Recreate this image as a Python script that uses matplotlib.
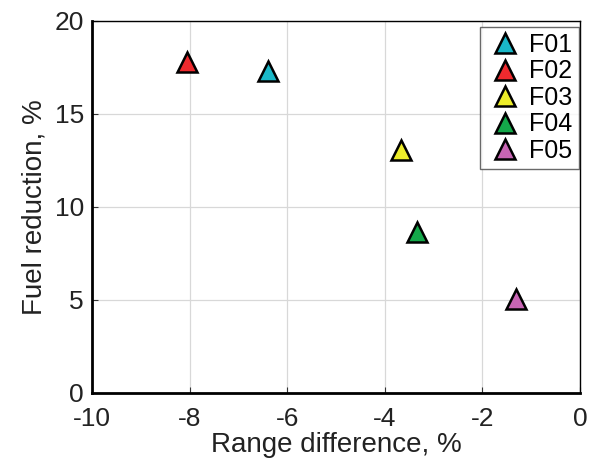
import matplotlib.pyplot as plt

plt.rcParams['font.family'] = ['Liberation Sans', 'DejaVu Sans']
plt.rcParams['axes.unicode_minus'] = False

names = ['F01', 'F02', 'F03', 'F04', 'F05']
range_diff = [-6.4, -8.05, -3.66, -3.34, -1.32]
fuel_red = [17.3, 17.8, 13.05, 8.65, 5.05]
colors = ['#1ab8c8', '#ee2a2e', '#eded2a', '#14a84a', '#c865b4']

fig = plt.figure(figsize=(5.98, 4.66), dpi=100)
ax = fig.add_axes([0.154, 0.157, 0.816, 0.798])

for i in range(len(names)):
    ax.plot(range_diff[i], fuel_red[i], '^', ms=15, mfc=colors[i], mec='black',
            mew=1.8, label=names[i], linestyle='none')

ax.set_xlim(-10, 0)
ax.set_ylim(0, 20)
ax.set_xticks([-10, -8, -6, -4, -2, 0])
ax.set_yticks([0, 5, 10, 15, 20])
ax.grid(True, color='#d8d8d8', linewidth=0.9)
ax.set_axisbelow(True)
ax.tick_params(direction='in', labelsize=19, length=4, color='#333333', labelcolor='#222222')
ax.tick_params(axis='x', pad=10)
ax.tick_params(axis='y', pad=6)
for lbl in ax.get_yticklabels():
    lbl.set_verticalalignment('center_baseline')
for s in ax.spines.values():
    s.set_linewidth(1.0)
ax.spines['bottom'].set_linewidth(2.0)
ax.spines['left'].set_linewidth(2.0)
ax.set_xlabel('Range difference, %', fontsize=20, color='#222222', labelpad=1)
ax.set_ylabel('Fuel reduction, %', fontsize=20, color='#222222', labelpad=5)

leg = ax.legend(loc='upper right', bbox_to_anchor=(0.997, 0.985), borderaxespad=0,
                fontsize=18, frameon=True, fancybox=False,
                edgecolor='#444444', borderpad=0.25, labelspacing=0.1,
                handletextpad=0.2, handlelength=1.5)
leg.get_frame().set_linewidth(1.0)

fig.savefig('out.png', dpi=100)
